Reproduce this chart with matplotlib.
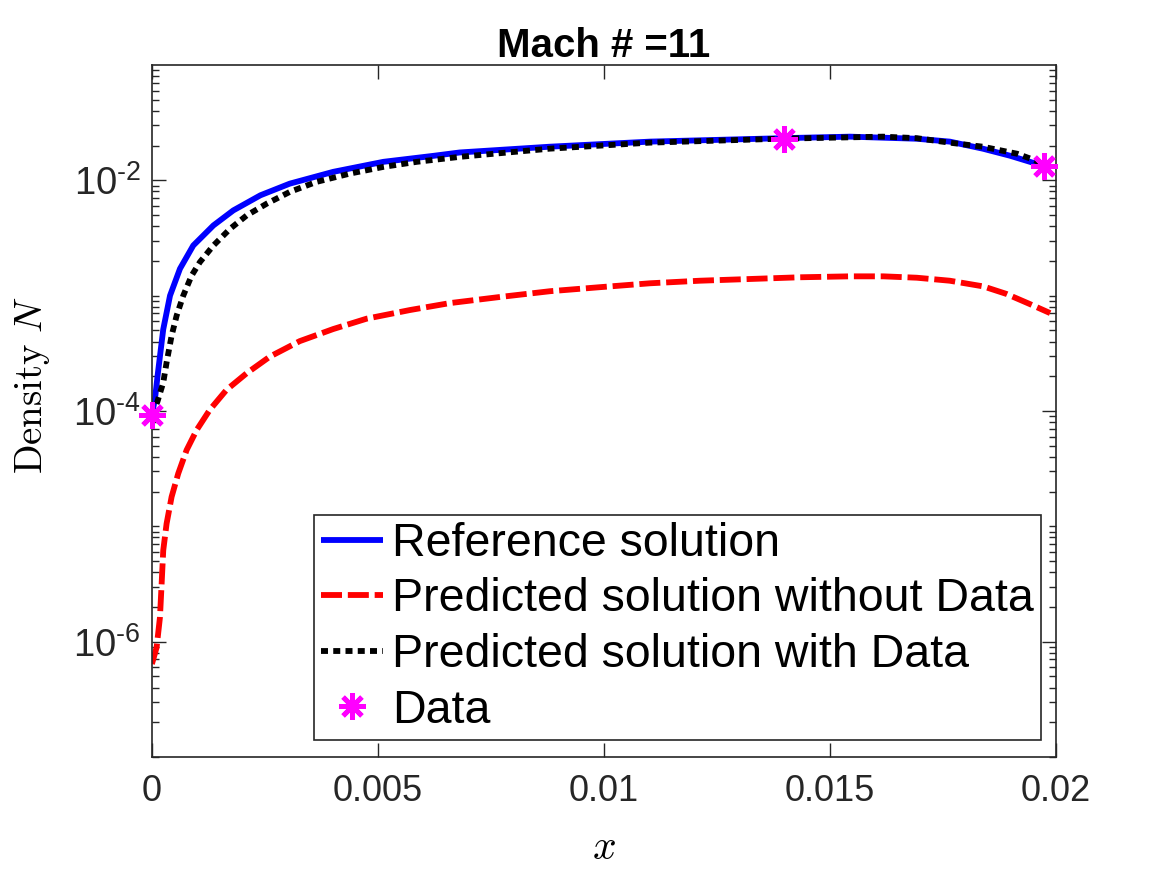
import numpy as np
import matplotlib
matplotlib.use("Agg")
import matplotlib.pyplot as plt
from matplotlib.ticker import FixedLocator, FixedFormatter, NullFormatter

plt.rcParams['font.family'] = ['Liberation Sans', 'DejaVu Sans']
plt.rcParams['mathtext.fontset'] = 'custom'
plt.rcParams['mathtext.rm'] = 'Liberation Sans'
plt.rcParams['mathtext.it'] = 'Liberation Sans:italic'
plt.rcParams['mathtext.bf'] = 'Liberation Sans:bold'

# ---- data ----
x_ref = [0, 0.00007, 0.00013, 0.00025, 0.0004, 0.00062, 0.000914, 0.00136, 0.0018,
         0.0024, 0.00305, 0.00401, 0.00512, 0.00623, 0.00681, 0.0088, 0.01102,
         0.01396, 0.01544, 0.01692, 0.01765, 0.01838, 0.01898, 0.01949, 0.0197]
y_ref = [9.2e-5, 1.3e-4, 2.1e-4, 5.1e-4, 1.0e-3, 1.71e-3, 2.72e-3, 4.06e-3, 5.48e-3,
         7.41e-3, 9.35e-3, 1.183e-2, 1.445e-2, 1.629e-2, 1.742e-2, 1.954e-2, 2.163e-2,
         2.317e-2, 2.388e-2, 2.291e-2, 2.163e-2, 1.879e-2, 1.633e-2, 1.419e-2, 1.337e-2]

x_nodata = [0, 0.000103, 0.000177, 0.000214, 0.00025, 0.000324, 0.000435, 0.000582,
            0.000767, 0.00099, 0.00128, 0.00165, 0.0021, 0.00261, 0.00327, 0.00401,
            0.00475, 0.00571, 0.00659, 0.0077, 0.0088, 0.00991, 0.01102, 0.01212,
            0.01323, 0.01434, 0.01544, 0.01618, 0.01692, 0.01765, 0.01839, 0.0189,
            0.01942, 0.01987]
y_nodata = [6.4e-7, 8.9e-7, 1.62e-6, 3.16e-6, 6.18e-6, 1.054e-5, 1.80e-5, 2.87e-5,
            4.58e-5, 6.84e-5, 1.023e-4, 1.524e-4, 2.13e-4, 2.96e-4, 4.03e-4, 5.13e-4,
            6.31e-4, 7.50e-4, 8.61e-4, 9.73e-4, 1.091e-3, 1.183e-3, 1.279e-3, 1.346e-3,
            1.393e-3, 1.442e-3, 1.469e-3, 1.469e-3, 1.429e-3, 1.346e-3, 1.202e-3, 1.035e-3,
            8.45e-4, 7.05e-4]

x_withdata = [0, 0.00012, 0.000251, 0.000324, 0.000435, 0.000546, 0.000693, 0.000877,
              0.00106, 0.00136, 0.00173, 0.0021, 0.00254, 0.00305, 0.00364, 0.00438,
              0.00512, 0.00586, 0.00681, 0.0088, 0.011, 0.01396, 0.01617, 0.01692,
              0.01765, 0.01838, 0.01914, 0.0195, 0.0197]
y_withdata = [9.2e-5, 1.2e-4, 1.77e-4, 2.63e-4, 4.49e-4, 6.70e-4, 1.0e-3, 1.49e-3,
              1.95e-3, 2.72e-3, 3.80e-3, 4.97e-3, 6.27e-3, 7.93e-3, 9.68e-3, 1.143e-2,
              1.306e-2, 1.445e-2, 1.596e-2, 1.879e-2, 2.118e-2, 2.296e-2, 2.388e-2, 2.317e-2,
              2.118e-2, 1.954e-2, 1.698e-2, 1.507e-2, 1.39e-2]

x_data = [0, 0.01398, 0.01973]
y_data = [9.2e-5, 2.30e-2, 1.34e-2]

xticks = [0, 0.005, 0.01, 0.015, 0.02]
xticklabels = ['0', '0.005', '0.01', '0.015', '0.02']
yticks = [1e-6, 1e-4, 1e-2]
yticklabels = [r'$\mathregular{10^{\text{-}6}}$', r'$\mathregular{10^{\text{-}4}}$',
               r'$\mathregular{10^{\text{-}2}}$']

labels = ['Reference solution', 'Predicted solution without Data',
          'Predicted solution with Data', 'Data']

# ---- figure ----
fig = plt.figure(figsize=(11.67, 8.75), dpi=100)
ax = fig.add_axes([0.1302, 0.1349, 0.7747, 0.7909])

axcol = '#262626'
ax.plot(x_ref, y_ref, color='#0000FF', lw=4.2, solid_capstyle='butt',
        solid_joinstyle='round', label=labels[0])
ax.plot(x_nodata, y_nodata, color='#FF0000', lw=4.2, dashes=(3.6, 1.0),
        dash_capstyle='butt', label=labels[1])
ax.plot(x_withdata, y_withdata, color='black', lw=4.2, dashes=(1.2, 0.9),
        dash_capstyle='butt', label=labels[2])
ax.plot(x_data, y_data, linestyle='none', marker=(8, 2, 0), markersize=19,
        markeredgewidth=3.5, color='#FF00FF', clip_on=False, zorder=5, label=labels[3])

ax.set_yscale('log')
ax.set_xlim(0, 0.02)
ax.set_ylim(1e-7, 1e-1)

ax.xaxis.set_major_locator(FixedLocator(xticks))
ax.xaxis.set_major_formatter(FixedFormatter(xticklabels))
ax.yaxis.set_major_locator(FixedLocator(yticks))
ax.yaxis.set_major_formatter(FixedFormatter(yticklabels))
minor = [k * 10.0 ** e for e in range(-7, -1) for k in range(1, 10)
         if not (k == 1 and e in (-6, -4, -2))]
ax.yaxis.set_minor_locator(FixedLocator(minor))
ax.yaxis.set_minor_formatter(NullFormatter())
ax.xaxis.set_minor_locator(FixedLocator([]))

ax.tick_params(axis='both', which='both', direction='in', top=True, right=True,
               colors=axcol, labelsize=26)
ax.tick_params(axis='y', which='major', labelsize=27.5)
ax.tick_params(axis='both', which='major', length=10, width=1.0)
ax.tick_params(axis='y', which='minor', length=5, width=1.0)
ax.tick_params(axis='x', which='major', pad=12)
ax.tick_params(axis='y', which='major', pad=8)
for sp in ax.spines.values():
    sp.set_color(axcol)
    sp.set_linewidth(1.2)

ax.set_title('Mach # =11', fontsize=29, fontweight='bold', pad=6)
ax.set_xlabel(r'$x$', fontsize=30, math_fontfamily='cm', labelpad=14)
ax.set_ylabel(r'$\mathrm{Density}\ N$', fontsize=28, math_fontfamily='cm')
ax.yaxis.set_label_coords(-0.11, 0.5376)

leg = ax.legend(loc='lower right', bbox_to_anchor=(0.983, 0.025), fontsize=33.5,
                frameon=True, fancybox=False, framealpha=1, edgecolor=axcol,
                handlelength=1.33, handletextpad=0.2, borderpad=0.15,
                labelspacing=0.25, borderaxespad=0)
leg.get_frame().set_linewidth(1.2)

fig.savefig('out.png', dpi=100)
